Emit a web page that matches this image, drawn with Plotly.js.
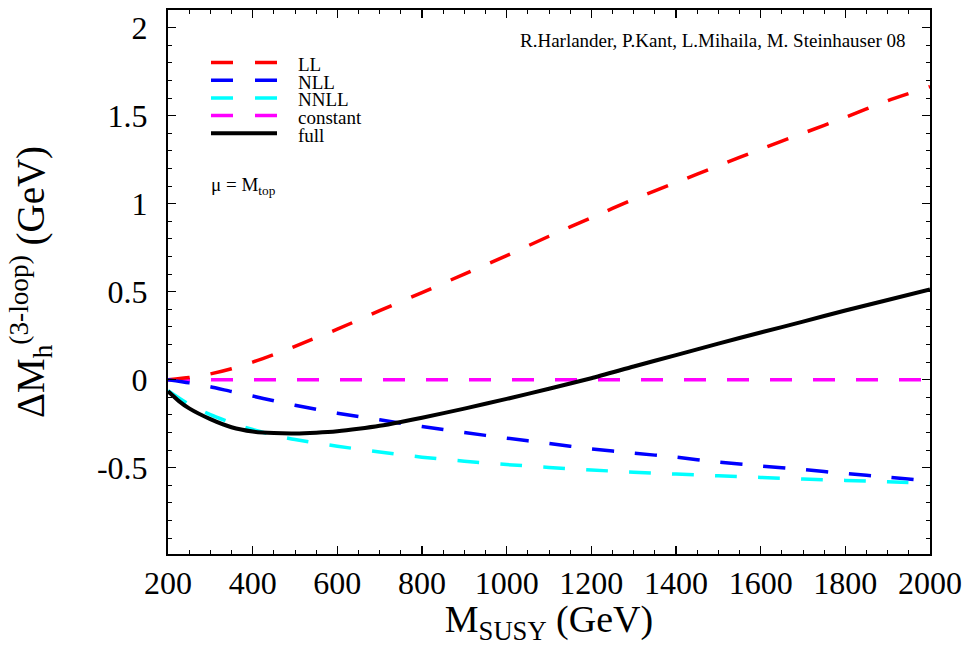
<!DOCTYPE html>
<html>
<head>
<meta charset="utf-8">
<script src="https://cdn.plot.ly/plotly-3.0.1.min.js"></script>
<style>html,body{margin:0;padding:0;background:#fff;}#chart{width:965px;height:646px;}</style>
</head>
<body>
<div id="chart"></div>
<script>
// M_SUSY (GeV)
const mSusyLL = [200, 250, 300, 350, 400, 450, 500, 600, 700, 800, 900, 1000, 1100, 1200, 1300, 1400, 1500, 1600, 1700, 1800, 1900, 2000];
const valLL   = [0.0, 0.012, 0.033, 0.062, 0.10, 0.143, 0.19, 0.287, 0.392, 0.495, 0.60, 0.705, 0.815, 0.92, 1.025, 1.12, 1.215, 1.31, 1.40, 1.49, 1.585, 1.665];

const mSusyNLL = [200, 250, 300, 350, 400, 450, 500, 600, 700, 800, 900, 1000, 1100, 1200, 1300, 1400, 1500, 1600, 1700, 1800, 1900, 2000];
const valNLL   = [0.0, -0.018, -0.04, -0.067, -0.093, -0.12, -0.145, -0.19, -0.228, -0.266, -0.30, -0.332, -0.362, -0.393, -0.417, -0.44, -0.468, -0.49, -0.51, -0.533, -0.553, -0.575];

const mSusyNNLL = [200, 250, 300, 350, 400, 450, 500, 600, 700, 800, 900, 1000, 1100, 1200, 1300, 1400, 1500, 1600, 1700, 1800, 1900, 2000];
const valNNLL   = [-0.062, -0.14, -0.198, -0.245, -0.283, -0.315, -0.34, -0.378, -0.41, -0.44, -0.463, -0.482, -0.498, -0.513, -0.525, -0.536, -0.546, -0.555, -0.564, -0.572, -0.58, -0.588];

const mSusyConst = [200, 2000];
const valConst   = [0, 0];

const mSusyFull = [200, 225, 250, 300, 350, 400, 450, 500, 550, 600, 650, 700, 750, 800, 900, 1000, 1100, 1200, 1300, 1400, 1500, 1600, 1700, 1800, 1900, 2000];
const valFull   = [-0.066, -0.12, -0.163, -0.224, -0.27, -0.294, -0.303, -0.305, -0.301, -0.293, -0.279, -0.262, -0.24, -0.216, -0.164, -0.109, -0.051, 0.008, 0.075, 0.14, 0.205, 0.268, 0.33, 0.393, 0.453, 0.513];

const seriesNames = ["LL", "NLL", "NNLL", "constant", "full"];
const yTickVals = [-0.5, 0, 0.5, 1, 1.5, 2];
const yTickText = ["-0.5", "0", "0.5", "1", "1.5", "2"];

const serif = "'Liberation Serif', 'Times New Roman', Times, serif";
const colors = ["#ff0000", "#0000ff", "#00ffff", "#ff00ff", "#000000"];
const dashes = ["22px,21px", "22px,21px", "22px,21px", "22px,21px", "solid"];
const widths = [3.5, 3.5, 3.5, 3.5, 4];

const xs = [mSusyLL, mSusyNLL, mSusyNNLL, mSusyConst, mSusyFull];
const ys = [valLL, valNLL, valNNLL, valConst, valFull];
const order = [3, 0, 1, 2, 4];

const traces = order.map(i => ({
  x: xs[i], y: ys[i], type: "scatter", mode: "lines", name: seriesNames[i],
  line: {color: colors[i], width: widths[i], dash: dashes[i], shape: "spline", smoothing: 0.6},
  showlegend: false, hoverinfo: "x+y+name"
}));

// margins / pixel helpers for the hand-made legend
const W = 965, H = 646, mL = 168, mR = 35, mT = 10, mB = 92;
const pw = W - mL - mR, ph = H - mT - mB;
const px = v => (v - mL) / pw;
const py = v => 1 - (v - mT) / ph;

const legendRowsY = [62.5, 80.2, 97.9, 115.6, 133.3];
const shapes = [];
const annotations = [];
seriesNames.forEach((n, i) => {
  shapes.push({type: "line", xref: "paper", yref: "paper",
    x0: px(211), x1: px(277), y0: py(legendRowsY[i]), y1: py(legendRowsY[i]),
    line: {color: colors[i], width: widths[i], dash: i === 4 ? "solid" : "22px,22px"}});
  annotations.push({xref: "paper", yref: "paper", x: px(297), y: py(legendRowsY[i] + 2),
    xanchor: "left", yanchor: "middle", showarrow: false, text: n, borderpad: 0,
    font: {family: serif, size: 19, color: "#000"}});
});
annotations.push({xref: "paper", yref: "paper", x: px(908), y: py(40), xanchor: "right", yanchor: "middle",
  showarrow: false, text: "R.Harlander, P.Kant, L.Mihaila, M. Steinhauser 08",
  font: {family: serif, size: 19, color: "#000"}});
annotations.push({xref: "paper", yref: "paper", x: px(209), y: py(186), xanchor: "left", yanchor: "middle",
  showarrow: false, text: "μ = M<sub>top</sub>",
  font: {family: serif, size: 19, color: "#000"}});

const layout = {
  width: W, height: H,
  margin: {l: mL, r: mR, t: mT, b: mB},
  paper_bgcolor: "#fff", plot_bgcolor: "#fff",
  font: {family: serif, color: "#000"},
  showlegend: false,
  xaxis: {
    range: [200, 2000], tick0: 200, dtick: 200, ticks: "inside", ticklen: 8, tickwidth: 1.5,
    tickcolor: "#000", mirror: "ticks", showline: true, linewidth: 2, linecolor: "#000",
    showgrid: false, zeroline: false, automargin: false,
    minor: {dtick: 50, ticks: "inside", ticklen: 4, tickwidth: 1, tickcolor: "#000", showgrid: false},
    tickfont: {family: serif, size: 32, color: "#000"},
    title: {text: "M<sub>SUSY</sub> (GeV)", font: {family: serif, size: 38, color: "#000"}, standoff: 10}
  },
  yaxis: {
    range: [-0.99, 2.1], tickvals: yTickVals, ticktext: yTickText, ticks: "inside", ticklen: 8, tickwidth: 1.5,
    tickcolor: "#000", mirror: "ticks", showline: true, linewidth: 2, linecolor: "#000",
    showgrid: false, zeroline: false, automargin: false, ticklabelstandoff: 12,
    minor: {tick0: 0, dtick: 0.1, ticks: "inside", ticklen: 4, tickwidth: 1, tickcolor: "#000", showgrid: false},
    tickfont: {family: serif, size: 32, color: "#000"},
    title: {text: "ΔM<sub>h</sub><sup>(3-loop)</sup> (GeV)", font: {family: serif, size: 39, color: "#000"}, standoff: 40}
  },
  shapes: shapes,
  annotations: annotations
};

Plotly.newPlot("chart", traces, layout, {staticPlot: true, displayModeBar: false});
</script>
</body>
</html>
